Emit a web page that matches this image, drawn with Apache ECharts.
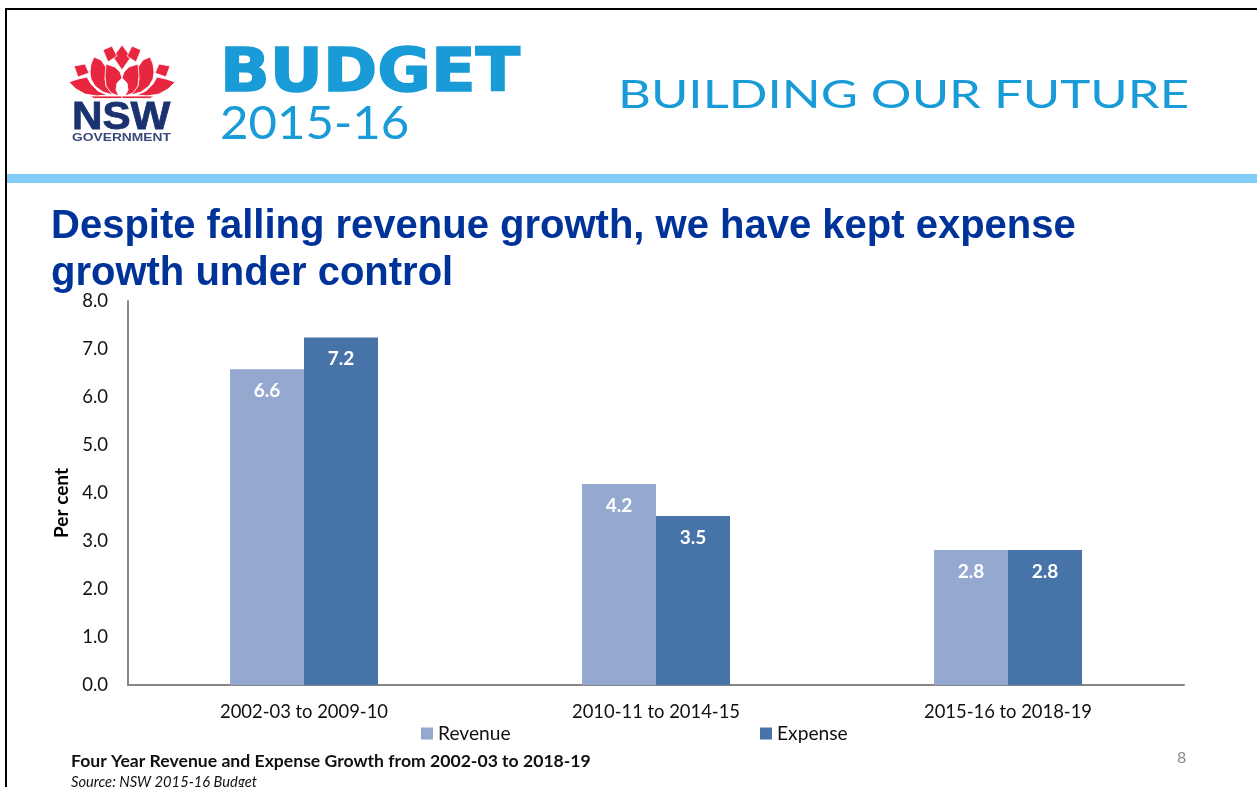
<!DOCTYPE html>
<html><head><meta charset="utf-8">
<style>html,body{margin:0;padding:0;background:#fff}#c{width:1257px;height:787px}</style>
<script src="https://cdn.jsdelivr.net/npm/echarts@6/dist/echarts.min.js"></script>
</head><body><div id="c"></div>
<script>
const categories = ['2002-03 to 2009-10','2010-11 to 2014-15','2015-16 to 2018-19'];
const revenue = [6.58,4.19,2.81];
const expense = [7.24,3.52,2.81];
const yTicks = {min:0,max:8,interval:1};
const titleLines = ['Despite falling revenue growth, we have kept expense','growth under control'];
const revColor='#95a9d0', expColor='#4674a8', red='#e8263f', navy='#1b3271', cyan='#189bd7';
const leftPetals = [
 [[103,50],[112,46],[117,56],[108,62]],
 [[74,66],[85,64],[89,73],[78,77]],
 [[94,57],[101,60],[108,70],[105,78],[106,86],[113,95],[103,92],[95,86],[91,79],[90,72],[91,64]],
 [[106,64],[115,67],[120,72],[122,78],[117,83],[116,90],[119,96],[111,93],[106,86],[105,76]],
 [[69,82],[78,79],[87,77],[91,84],[98,91],[107,95],[97,96],[85,94],[76,89]],
 [[90,96],[122,96],[122,98.5],[94,98.5]]
];
const centrePetal = [[122,45],[131,57],[122,70],[113,57]];
const petal = pts => ({type:'polygon',shape:{points:pts},style:{fill:red,stroke:'#fff',lineWidth:0.8},silent:true});
const txt = (text,x,y,font,fill,extra,styleExtra) => Object.assign({type:'text',x,y,silent:true,style:Object.assign({text,font,fill,verticalAlign:'middle'},styleExtra||{})},extra||{});
const chart = echarts.init(document.getElementById('c'),null,{renderer:'canvas'});
const legendBase = {itemWidth:12,itemHeight:12,itemGap:5,icon:'rect',textStyle:{color:'#111',fontFamily:'Lato',fontSize:19.2},selectedMode:false,padding:0};
chart.setOption({
 animation:false,
 backgroundColor:'#fff',
 textStyle:{fontFamily:'Lato'},
 grid:{left:128,right:73,top:301,bottom:102,containLabel:false},
 xAxis:{type:'category',data:categories,
  axisLine:{lineStyle:{color:'#868686',width:2}},axisTick:{show:false},
  axisLabel:{color:'#111',fontFamily:'Lato',fontSize:18.4,margin:18}},
 yAxis:{type:'value',min:yTicks.min,max:yTicks.max,interval:yTicks.interval,
  name:'Per cent',nameLocation:'middle',nameGap:57,nameRotate:90,
  nameTextStyle:{color:'#000',fontFamily:'Lato',fontWeight:'bold',fontSize:19,padding:[0,20,0,0]},
  splitLine:{show:false},axisTick:{show:false},
  axisLine:{show:true,lineStyle:{color:'#868686',width:2}},
  axisLabel:{color:'#111',fontFamily:'Lato',fontSize:18.5,margin:20,formatter:v=>v.toFixed(1)}},
 legend:[
  Object.assign({data:['Revenue'],left:421,top:724},legendBase),
  Object.assign({data:['Expense'],left:760,top:724},legendBase)
 ],
 series:[
  {name:'Revenue',type:'bar',data:revenue,barWidth:74,barGap:0,itemStyle:{color:revColor},
   label:{show:true,position:'insideTop',distance:12,color:'#fff',fontFamily:'Lato',fontWeight:'bold',fontSize:19,formatter:p=>p.value.toFixed(1)}},
  {name:'Expense',type:'bar',data:expense,barWidth:74,barGap:0,itemStyle:{color:expColor},
   label:{show:true,position:'insideTop',distance:12,color:'#fff',fontFamily:'Lato',fontWeight:'bold',fontSize:19,formatter:p=>p.value.toFixed(1)}}
 ],
 graphic:{elements:[
  {type:'rect',shape:{x:5,y:8,width:1252,height:2},style:{fill:'#000'},silent:true},
  {type:'rect',shape:{x:5,y:8,width:2,height:779},style:{fill:'#000'},silent:true},
  {type:'rect',shape:{x:7,y:174,width:1250,height:9},style:{fill:'#82cdf6'},silent:true},
  {type:'group',children:[petal(centrePetal),...leftPetals.map(petal)]},
  {type:'group',x:244,scaleX:-1,children:leftPetals.map(petal)},
  txt('NSW',72,119,'bold 38px "Liberation Sans"',navy,{scaleX:1.11},{stroke:navy,lineWidth:0.8}),
  txt('GOVERNMENT',72,138,'bold 11.5px "Liberation Sans"','#3a4a78',{scaleX:1.2}),
  txt('BUDGET',220,75,'bold 60px "DejaVu Sans"',cyan,{scaleX:1.09},{stroke:cyan,lineWidth:1.5}),
  txt('2015-16',220,124,'47px Lato',cyan,{scaleX:1.045}),
  txt('BUILDING OUR FUTURE',618,95.5,'38px Lato',cyan,{scaleX:1.34}),
  txt(titleLines[0],51,227,'bold 40px "Liberation Sans"','#003399'),
  txt(titleLines[1],51,274,'bold 40px "Liberation Sans"','#003399'),
  txt('Four Year Revenue and Expense Growth from 2002-03 to 2018-19',71,761,'bold 17.6px Lato','#111'),
  txt('Source: NSW 2015-16 Budget',71,782,'italic 14.7px Lato','#111'),
  txt('8',1177,758,'16px Lato','#8a8a8a')
 ]}
});
</script></body></html>
